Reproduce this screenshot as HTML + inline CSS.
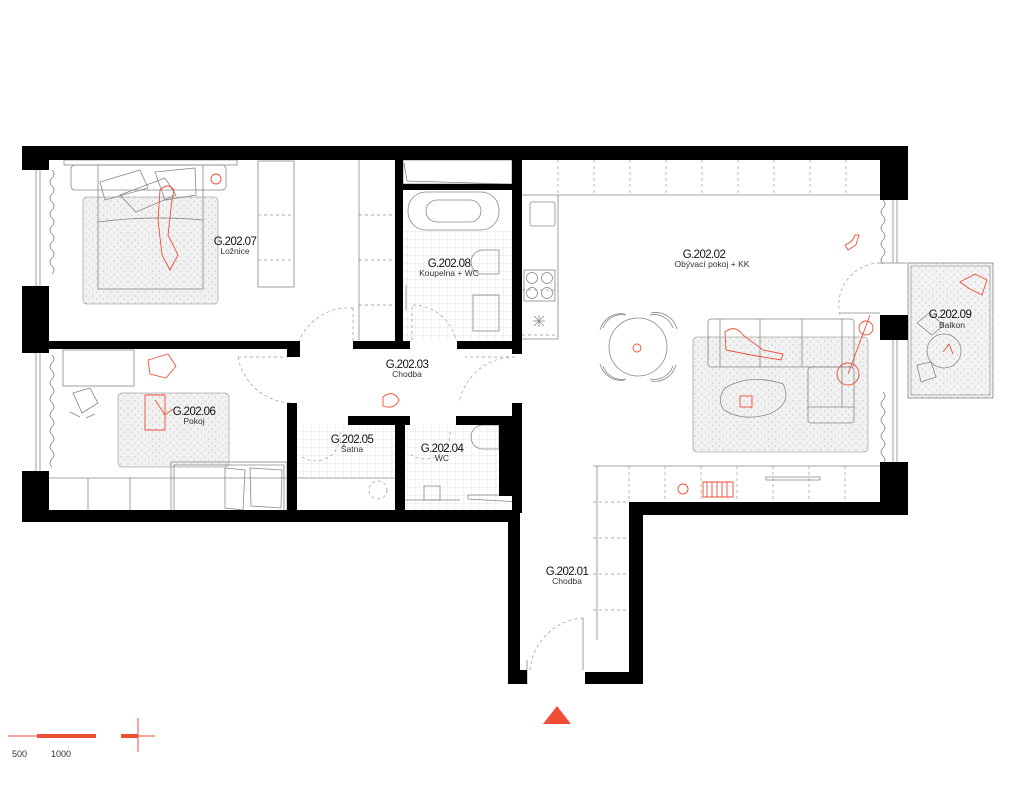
<!DOCTYPE html>
<html><head><meta charset="utf-8"><style>
html,body{margin:0;padding:0;background:#fff;}
svg{display:block;}
.t1{font-family:"Liberation Sans",sans-serif;font-size:11.5px;fill:#111;letter-spacing:-0.6px;text-anchor:middle;}
.t2{font-family:"Liberation Sans",sans-serif;font-size:8.5px;fill:#333;text-anchor:middle;}
.f{fill:none;stroke:#888;stroke-width:0.8;}
.d{fill:none;stroke:#999;stroke-width:0.7;stroke-dasharray:3 3;}
.r{fill:none;stroke:#f04e37;stroke-width:0.9;}
.rug{fill:#f1f1f1;stroke:#aaa;stroke-width:0.8;}
</style></head><body>
<svg width="1024" height="786" viewBox="0 0 1024 786" xmlns="http://www.w3.org/2000/svg">
<defs>
<pattern id="tile" width="8" height="8" patternUnits="userSpaceOnUse"><path d="M8 0V8M0 8H8" stroke="#ccc" stroke-width="0.5" fill="none"/></pattern>
<pattern id="dots" width="7" height="7" patternUnits="userSpaceOnUse"><circle cx="2" cy="2" r="0.5" fill="#999"/><circle cx="5.5" cy="5" r="0.5" fill="#aaa"/></pattern>
</defs>

<!-- rugs -->
<rect class="rug" x="83" y="197" width="135" height="107" rx="4"/>
<rect x="83" y="197" width="135" height="107" fill="url(#dots)"/>
<rect class="rug" x="118" y="393" width="111" height="74" rx="4"/>
<rect x="118" y="393" width="111" height="74" fill="url(#dots)"/>
<rect class="rug" x="693" y="337" width="175" height="115" rx="4"/>
<rect x="693" y="337" width="175" height="115" fill="url(#dots)"/>
<!-- balcony -->
<rect x="908" y="263" width="85" height="135" fill="#f3f3f3" stroke="#888" stroke-width="0.8"/>
<rect x="908" y="263" width="85" height="135" fill="url(#dots)"/>
<rect x="911" y="266" width="79" height="129" fill="none" stroke="#888" stroke-width="0.6"/>

<!-- tiles -->
<rect x="403" y="230" width="109" height="110" fill="url(#tile)"/>
<rect x="297" y="425" width="98" height="53" fill="url(#tile)"/>
<rect x="405" y="425" width="94" height="87" fill="url(#tile)"/>

<!-- bedroom furniture -->
<rect class="f" x="64" y="160" width="173" height="5"/>
<rect class="f" x="71" y="165" width="155" height="25" rx="4"/>
<rect class="f" x="98" y="165" width="105" height="124" fill="#fff"/>
<path class="f" d="M100 182L140 170 148 188 105 200Z M120 195L165 178 176 195 136 212Z M155 172L195 168 196 195 165 200Z M98 222Q150 215 203 220"/>
<path class="r" d="M160 190Q168 182 174 190L172 200 168 235 178 255 170 270 162 255 158 220Z"/>
<rect class="f" x="258" y="161" width="36" height="126"/>
<path class="d" d="M258 215H294M258 260H294M359 215H395M359 260H395M359 305H395"/>
<path class="f" d="M359 160V340"/>
<path class="f" d="M52 170q4 4 0 8q-4 4 0 8q4 4 0 8q-4 4 0 8q4 4 0 8q-4 4 0 8q4 4 0 8q-4 4 0 8q4 4 0 8q-4 4 0 8q4 4 0 8q-4 4 0 8q4 4 0 8"/>
<circle class="r" cx="216" cy="179" r="5"/>

<!-- pokoj furniture -->
<rect class="f" x="63" y="350" width="71" height="36"/>
<path class="f" d="M52 355q4 4 0 8q-4 4 0 8q4 4 0 8q-4 4 0 8q4 4 0 8q-4 4 0 8q4 4 0 8q-4 4 0 8q4 4 0 8q-4 4 0 8q4 4 0 8q-4 4 0 8q4 4 0 8q-4 4 0 8"/>
<path class="f" d="M73 393L90 388 98 403 82 413Z M70 412L80 417M86 418L95 414"/>
<path class="r" d="M148 360l20 -6 8 12 -10 12 -16 -4Z M145 395h20v35h-20Z M155 400l10 15 8 -6"/>
<path class="f" d="M49 478H287M88 478V514M130 478V514"/>
<path class="d" d="M88 478V514M130 478V514"/>
<rect class="f" x="171" y="462" width="116" height="52"/>
<path class="f" d="M174 465H284V511H174Z M225 468l20 2 -2 40 -18 -2Z M250 468l32 2 -1 38 -30 -2Z"/>

<!-- bathroom -->
<rect class="f" x="403" y="160" width="109" height="24"/>
<path class="f" d="M404 163l3 18 103 3"/>
<rect class="f" x="408" y="192" width="91" height="38" rx="18"/>
<rect class="f" x="426" y="200" width="55" height="22" rx="11"/>
<path class="f" d="M483 250h16v24h-16a12 12 0 0 1 0 -24Z"/>
<rect class="f" x="473" y="295" width="26" height="36"/>
<path class="f" d="M406 285v25"/>
<path class="d" d="M412 340V305a45 45 0 0 1 44 35"/>

<!-- corridor doors -->
<path class="d" d="M353 308a54 54 0 0 0 -54 33M353 308V341"/>
<path class="d" d="M238 357a56 56 0 0 0 56 46M238 357H290"/>
<path class="d" d="M515 357a56 56 0 0 0 -56 46M515 357H465"/>
<path class="d" d="M340 432a25 25 0 0 1 -38 25"/>
<path class="d" d="M450 432a25 25 0 0 1 -40 22"/>
<path class="r" d="M383 397q10 -8 16 3q-4 10 -16 6Z"/>
<!-- satna / wc bottom -->
<path class="f" d="M297 478H395M405 500H460"/>
<circle class="d" cx="378" cy="490" r="9"/>
<rect class="f" x="424" y="486" width="16" height="14"/>
<path class="f" d="M483 425h16v24h-16a12 12 0 0 1 0 -24Z"/>
<path class="f" d="M468 495l52 0 0 7 -52 -3Z"/>

<!-- living kitchen -->
<path class="f" d="M522 195H880M558 195V339H522"/>
<path class="d" d="M558 160V195M594 160V195M630 160V195M666 160V195M702 160V195M738 160V195M774 160V195M810 160V195M846 160V195M522 290H558M522 335H558"/>
<rect class="f" x="530" y="202" width="25" height="24" rx="2"/>
<rect class="f" x="524" y="270" width="31" height="31"/>
<circle class="f" cx="532" cy="278" r="5.5"/><circle class="f" cx="547" cy="278" r="5.5"/>
<circle class="f" cx="532" cy="293" r="5.5"/><circle class="f" cx="547" cy="293" r="5.5"/>
<path class="f" d="M534 316l10 10M544 316l-10 10M539 315v12M533 321h12"/>
<circle class="f" cx="638" cy="347" r="29"/>
<path class="f" d="M603 328a20 20 0 0 1 23 -13M650 315a20 20 0 0 1 23 13M603 366a20 20 0 0 0 23 13M650 379a20 20 0 0 0 23 -13"/>
<path class="f" d="M600 330a22 22 0 0 1 25 -16M651 313a22 22 0 0 1 26 16M600 364a22 22 0 0 0 25 16M651 381a22 22 0 0 0 25 -16"/>
<circle class="r" cx="637" cy="348" r="4"/>
<rect class="f" x="708" y="319" width="146" height="48" rx="3" fill="#fff"/>
<rect class="f" x="808" y="367" width="46" height="56" rx="3" fill="#fff"/>
<path class="f" d="M720 319V367M760 319V367M802 319V367M842 319V407M808 407H854"/>
<path class="f" d="M725 388q25 -15 58 -4q10 20 -14 30q-25 8 -45 -4q-8 -10 1 -22Z" fill="#fff"/>
<path class="r" d="M725 332q10 -8 18 3l20 15 20 4 -2 6 -30 -5 -25 -5Z"/>
<rect class="r" x="740" y="396" width="12" height="11"/>
<circle class="r" cx="848" cy="374" r="11"/><circle class="r" cx="866" cy="328" r="7"/>
<path class="r" d="M848 374L870 315"/>
<path class="r" d="M845 245q8 -3 10 -10l4 0 -3 10 -8 5Z"/>
<path class="f" d="M883 200q4 4 0 8q-4 4 0 8q4 4 0 8q-4 4 0 8q4 4 0 8q-4 4 0 8q4 4 0 8q-4 4 0 8"/>
<path class="f" d="M883 392q4 4 0 8q-4 4 0 8q4 4 0 8q-4 4 0 8q4 4 0 8q-4 4 0 8q4 4 0 8q-4 4 0 8q4 4 0 8"/>
<path class="d" d="M880 263a42 42 0 0 0 -40 52"/>
<path class="f" d="M840 313H880M880 263H907"/>
<path class="f" d="M593 466H880M597 466V640"/>
<path class="d" d="M629 466V502M665 466V502M701 466V502M737 466V502M773 466V502M809 466V502M845 466V502M593 502H629M593 538H629M593 574H629M593 610H629"/>
<path class="f" d="M766 477H820v3H766Z"/>
<path class="r" d="M703 482h30v15h-30ZM707 482v15M712 482v15M717 482v15M722 482v15M727 482v15"/>
<circle class="r" cx="683" cy="489" r="5"/>
<!-- balcony furniture -->
<circle class="f" cx="944" cy="351" r="17" fill="#fff"/>
<path class="f" d="M917 323l12 -10 15 12 -12 10Z M917 365l14 -3 5 15 -15 5Z"/>
<path class="r" d="M960 282l15 -8 12 6 -5 15 -12 -6Z M943 352l6 -8 4 10"/>
<!-- entry door -->
<path class="d" d="M530 670a57 57 0 0 1 53 -52"/>
<path class="f" d="M583 618V670M527 660V684"/>

<!-- walls -->
<g fill="#000">
<rect x="22" y="146" width="886" height="14"/>
<rect x="22" y="146" width="27" height="24"/>
<rect x="22" y="286" width="27" height="67"/>
<rect x="22" y="471" width="27" height="51"/>
<rect x="22" y="510" width="498" height="12"/>
<rect x="49" y="341" width="251" height="8"/>
<rect x="287" y="341" width="13" height="16"/>
<rect x="353" y="341" width="57" height="8"/>
<rect x="457" y="341" width="65" height="8"/>
<rect x="395" y="160" width="8" height="189"/>
<rect x="403" y="184" width="110" height="6"/>
<rect x="512" y="160" width="10" height="194"/>
<rect x="287" y="403" width="10" height="110"/>
<rect x="348" y="416" width="62" height="9"/>
<rect x="395" y="416" width="10" height="96"/>
<rect x="456" y="416" width="57" height="9"/>
<rect x="499" y="416" width="14" height="80"/>
<rect x="512" y="403" width="10" height="110"/>
<rect x="508" y="510" width="12" height="174"/>
<rect x="508" y="670" width="19" height="14"/>
<rect x="585" y="672" width="58" height="12"/>
<rect x="629" y="502" width="14" height="182"/>
<rect x="629" y="502" width="279" height="13"/>
<rect x="880" y="146" width="28" height="54"/>
<rect x="880" y="315" width="28" height="25"/>
<rect x="880" y="462" width="28" height="53"/>
</g>
<!-- windows -->
<path class="f" d="M36 170V286M40 170V286M36 353V471M40 353V471M893 200V263M897 200V263M893 340V462M897 340V462"/>

<!-- labels -->
<text class="t1" x="235" y="245">G.202.07</text><text class="t2" x="235" y="254">Ložnice</text>
<text class="t1" x="449" y="267">G.202.08</text><text class="t2" x="449" y="276">Koupelna + WC</text>
<text class="t1" x="704" y="258">G.202.02</text><text class="t2" x="712" y="267">Obývací pokoj + KK</text>
<text class="t1" x="407" y="368">G.202.03</text><text class="t2" x="407" y="377">Chodba</text>
<text class="t1" x="194" y="415">G.202.06</text><text class="t2" x="194" y="424">Pokoj</text>
<text class="t1" x="352" y="443">G.202.05</text><text class="t2" x="352" y="452">Šatna</text>
<text class="t1" x="442" y="452">G.202.04</text><text class="t2" x="442" y="461">WC</text>
<text class="t1" x="950" y="318">G.202.09</text><text class="t2" x="952" y="328">Balkon</text>
<text class="t1" x="567" y="575">G.202.01</text><text class="t2" x="567" y="584">Chodba</text>

<!-- scale & north -->
<path d="M8 736H37" stroke="#f04e37" stroke-width="1"/>
<path d="M37 736H96" stroke="#f04e37" stroke-width="4"/>
<path d="M121 736H155M138 718V752" stroke="#f04e37" stroke-width="1"/>
<path d="M121 736H138" stroke="#f04e37" stroke-width="4"/>
<text x="12" y="757" font-family="Liberation Sans,sans-serif" font-size="9" fill="#333">500</text>
<text x="51" y="757" font-family="Liberation Sans,sans-serif" font-size="9" fill="#333">1000</text>
<path d="M557 706L543 724H571Z" fill="#f04e37"/>
</svg>
</body></html>
